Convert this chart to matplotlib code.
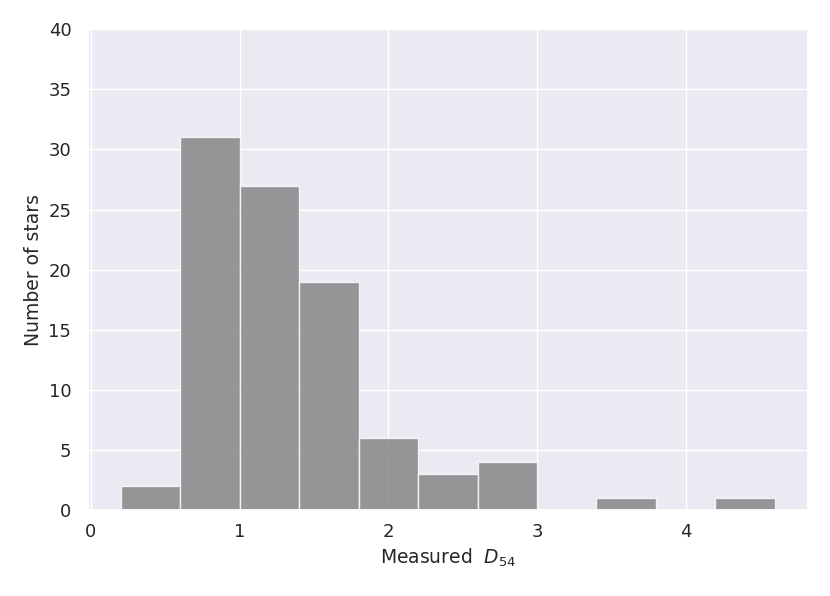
import numpy as np
import matplotlib
matplotlib.use("Agg")
import matplotlib.pyplot as plt
import seaborn as sns

# histogram bins
bin_edges = [0.2, 0.6, 1.0, 1.4, 1.8, 2.2, 2.6, 3.0, 3.4, 3.8, 4.2, 4.6]
counts = [2, 31, 27, 19, 6, 3, 4, 0, 1, 0, 1]
y_ticks = [0, 5, 10, 15, 20, 25, 30, 35, 40]
x_ticks = [0, 1, 2, 3, 4]

sns.set_theme(style="darkgrid")

fig = plt.figure(figsize=(8.3, 5.96), dpi=100)
ax = fig.add_axes([0.106, 0.144, 0.867, 0.807])

edges = np.array(bin_edges)
ax.bar(edges[:-1], counts, width=np.diff(edges), align="edge",
       color="gray", alpha=0.8, edgecolor="white", linewidth=1)

ax.set_ylim(0, 40)
ax.set_yticks(y_ticks)
ax.set_xticks(x_ticks)
ax.tick_params(labelsize=13)
ax.tick_params(axis="y", pad=6)
ax.set_xlabel("Measured  $D_{54}$", fontsize=13.5)
ax.set_ylabel("Number of stars", fontsize=13.5)

fig.savefig("out.png", dpi=100)
